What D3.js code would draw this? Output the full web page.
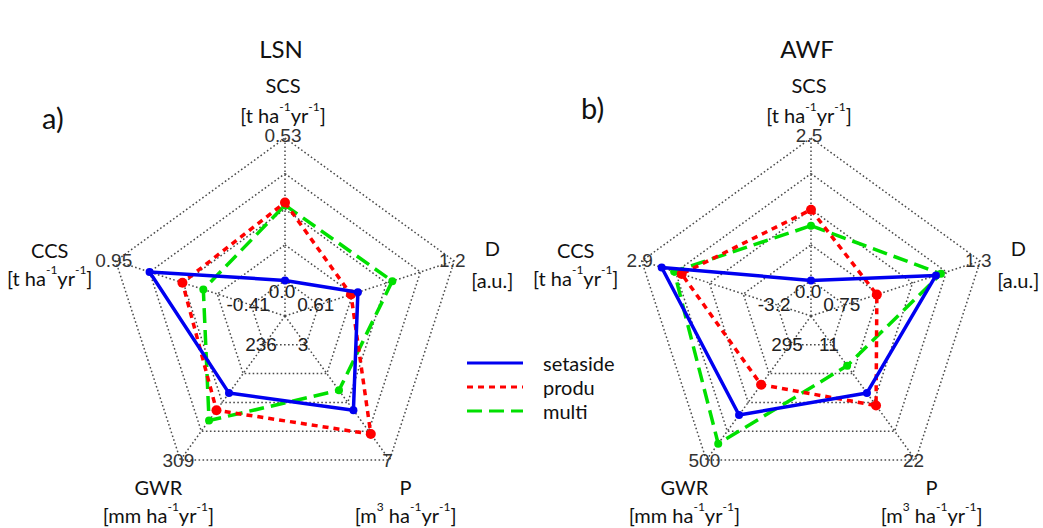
<!DOCTYPE html>
<html>
<head>
<meta charset="utf-8">
<script src="https://cdn.jsdelivr.net/npm/d3@7"></script>
<style>
  body { margin: 0; background: #fff; }
  svg { display: block; }
</style>
</head>
<body>
<div id="chart"></div>
<script>
// axes, clockwise from top
var axisNames = ['SCS', 'D', 'P', 'GWR', 'CCS']
var axisUnits = ['[t ha^{-1}yr^{-1}]', '[a.u.]', '[m^{3} ha^{-1}yr^{-1}]', '[mm ha^{-1}yr^{-1}]', '[t ha^{-1}yr^{-1}]']

// LSN
var lsnMin = [0.0, 0.61, 3, 236, -0.41]
var lsnMax = [0.53, 1.2, 7, 309, 0.95]
var lsnMinLabels = ['0.0', '0.61', '3', '236', '-0.41']
var lsnMaxLabels = ['0.53', '1.2', '7', '309', '0.95']
var lsnSetaside = [0.0, 0.78, 5.27, 266.6, 0.61]
var lsnProdu = [0.29, 0.75, 6.1, 277.5, 0.28]
var lsnMulti = [0.28, 0.93, 4.58, 284, 0.07]

// AWF
var awfMin = [0.0, 0.75, 11, 295, -3.2]
var awfMax = [2.5, 1.3, 22, 500, 2.9]
var awfMinLabels = ['0.0', '0.75', '11', '295', '-3.2']
var awfMaxLabels = ['2.5', '1.3', '22', '500', '2.9']
var awfSetaside = [0.0, 1.12, 15.6, 420, 2.0]
var awfProdu = [1.24, 0.88, 16.8, 366, 1.1]
var awfMulti = [0.96, 1.14, 13.0, 471, 1.44]

var seriesNames = ['setaside', 'produ', 'multi']

var width = 1043
var height = 528
var R = 178
var rings = 5

var styles = {
  setaside: { color: '#0000f0', dash: null, r: 4 },
  produ: { color: '#ff0000', dash: '6,5', r: 5 },
  multi: { color: '#00e000', dash: '15,7', r: 4 }
}

// label offsets from the outer vertex, per axis
var labelOffsets = [
  { dx: -2, dy1: -53, dy2: -23 },
  { dx: 38, dy1: -13, dy2: 19 },
  { dx: 16, dy1: 27, dy2: 55 },
  { dx: -22, dy1: 27, dy2: 55 },
  { dx: -66, dy1: -11, dy2: 17 }
]

var svg = d3.select('#chart')
  .append('svg')
  .attr('width', width)
  .attr('height', height)

function angle(i) {
  return (-90 + 72 * i) * Math.PI / 180
}

function point(cx, cy, i, r) {
  return [cx + r * Math.cos(angle(i)), cy + r * Math.sin(angle(i))]
}

// text with ^{..} superscripts
function richText(sel, str, size) {
  var parts = str.split(/(\^\{[^}]*\})/)
  parts.forEach(function(p) {
    if (!p) return
    if (p.charAt(0) === '^') {
      sel.append('tspan')
        .attr('font-size', size * 0.6)
        .attr('baseline-shift', '70%')
        .text(p.slice(2, -1))
    } else {
      sel.append('tspan').attr('font-size', size).text(p)
    }
  })
}

function drawRadar(opt) {
  var cx = opt.cx
  var cy = opt.cy
  var g = svg.append('g')

  var scales = axisNames.map(function(n, i) {
    return d3.scaleLinear().domain([opt.min[i], opt.max[i]]).range([R / rings, R])
  })

  // rings
  var ringLine = d3.line()
  d3.range(1, rings + 1).forEach(function(k) {
    var pts = axisNames.map(function(n, i) { return point(cx, cy, i, R * k / rings) })
    pts.push(pts[0])
    g.append('path')
      .attr('d', ringLine(pts))
      .attr('fill', 'none')
      .attr('stroke', '#4a4a4a')
      .attr('stroke-width', 1.5)
      .attr('stroke-dasharray', '1.6,2.4')
  })

  // spokes
  axisNames.forEach(function(n, i) {
    var p = point(cx, cy, i, R)
    g.append('line')
      .attr('x1', cx).attr('y1', cy)
      .attr('x2', p[0]).attr('y2', p[1])
      .attr('stroke', '#4a4a4a')
      .attr('stroke-width', 1.5)
      .attr('stroke-dasharray', '1.6,2.4')
  })

  // tick labels (min at inner ring, max at outer)
  axisNames.forEach(function(n, i) {
    var pi = point(cx, cy, i, R / rings)
    var po = point(cx, cy, i, R)
    g.append('text')
      .attr('x', pi[0] - 3)
      .attr('y', pi[1] + (i === 0 ? 11 : 0))
      .attr('text-anchor', 'middle')
      .attr('dominant-baseline', 'central')
      .attr('font-family', 'Liberation Sans, Arial, sans-serif')
      .attr('font-size', 19)
      .attr('fill', '#222')
      .text(opt.minLabels[i])
    g.append('text')
      .attr('x', po[0] - 2)
      .attr('y', po[1] + (i === 0 ? -3 : 0))
      .attr('text-anchor', 'middle')
      .attr('dominant-baseline', 'central')
      .attr('font-family', 'Liberation Sans, Arial, sans-serif')
      .attr('font-size', 19)
      .attr('fill', '#333')
      .text(opt.maxLabels[i])
  })

  // axis names and units
  axisNames.forEach(function(n, i) {
    var po = point(cx, cy, i, R)
    var off = labelOffsets[i]
    g.append('text')
      .attr('x', po[0] + off.dx)
      .attr('y', po[1] + off.dy1)
      .attr('text-anchor', 'middle')
      .attr('dominant-baseline', 'central')
      .attr('font-family', 'Lato, sans-serif')
      .attr('font-size', 20)
      .attr('fill', '#111')
      .text(n)
    var t = g.append('text')
      .attr('x', po[0] + off.dx)
      .attr('y', po[1] + off.dy2)
      .attr('text-anchor', 'middle')
      .attr('dominant-baseline', 'central')
      .attr('font-family', 'Lato, sans-serif')
      .attr('font-size', 20)
      .attr('fill', '#111')
    richText(t, axisUnits[i], 20)
  })

  // series, multi first so setaside ends on top
  var line = d3.line()
  ;['multi', 'produ', 'setaside'].forEach(function(name) {
    var vals = opt.series[name]
    var st = styles[name]
    var pts = vals.map(function(v, i) { return point(cx, cy, i, scales[i](v)) })
    var closed = pts.concat([pts[0]])
    g.append('path')
      .attr('d', line(closed))
      .attr('fill', 'none')
      .attr('stroke', st.color)
      .attr('stroke-width', 3.5)
      .attr('stroke-linejoin', 'round')
      .attr('stroke-dasharray', st.dash)
    g.selectAll('circle.' + name)
      .data(pts)
      .enter()
      .append('circle')
      .attr('class', name)
      .attr('cx', function(d) { return d[0] })
      .attr('cy', function(d) { return d[1] })
      .attr('r', st.r)
      .attr('fill', st.color)
  })

  // title and panel letter
  svg.append('text')
    .attr('x', cx - 4)
    .attr('y', 48)
    .attr('text-anchor', 'middle')
    .attr('dominant-baseline', 'central')
    .attr('font-family', 'Lato, sans-serif')
    .attr('font-size', 24)
    .attr('fill', '#111')
    .text(opt.title)
  svg.append('text')
    .attr('x', opt.letterX)
    .attr('y', opt.letterY)
    .attr('dominant-baseline', 'central')
    .attr('font-family', 'Lato, sans-serif')
    .attr('font-size', 29)
    .attr('fill', '#111')
    .text(opt.letter)
}

drawRadar({
  cx: 285, cy: 316, title: 'LSN', letter: 'a)', letterX: 42, letterY: 117,
  min: lsnMin, max: lsnMax, minLabels: lsnMinLabels, maxLabels: lsnMaxLabels,
  series: { setaside: lsnSetaside, produ: lsnProdu, multi: lsnMulti }
})

drawRadar({
  cx: 811, cy: 316, title: 'AWF', letter: 'b)', letterX: 581, letterY: 107,
  min: awfMin, max: awfMax, minLabels: awfMinLabels, maxLabels: awfMaxLabels,
  series: { setaside: awfSetaside, produ: awfProdu, multi: awfMulti }
})

// legend
var legend = svg.append('g').attr('transform', 'translate(467,363)')
seriesNames.forEach(function(name, i) {
  var st = styles[name]
  legend.append('line')
    .attr('x1', 0).attr('x2', 56)
    .attr('y1', i * 24).attr('y2', i * 24)
    .attr('stroke', st.color)
    .attr('stroke-width', 3)
    .attr('stroke-dasharray', st.dash)
  legend.append('text')
    .attr('x', 76)
    .attr('y', i * 24)
    .attr('dominant-baseline', 'central')
    .attr('font-family', 'Lato, sans-serif')
    .attr('font-size', 20)
    .attr('fill', '#111')
    .text(name)
})
</script>
</body>
</html>
